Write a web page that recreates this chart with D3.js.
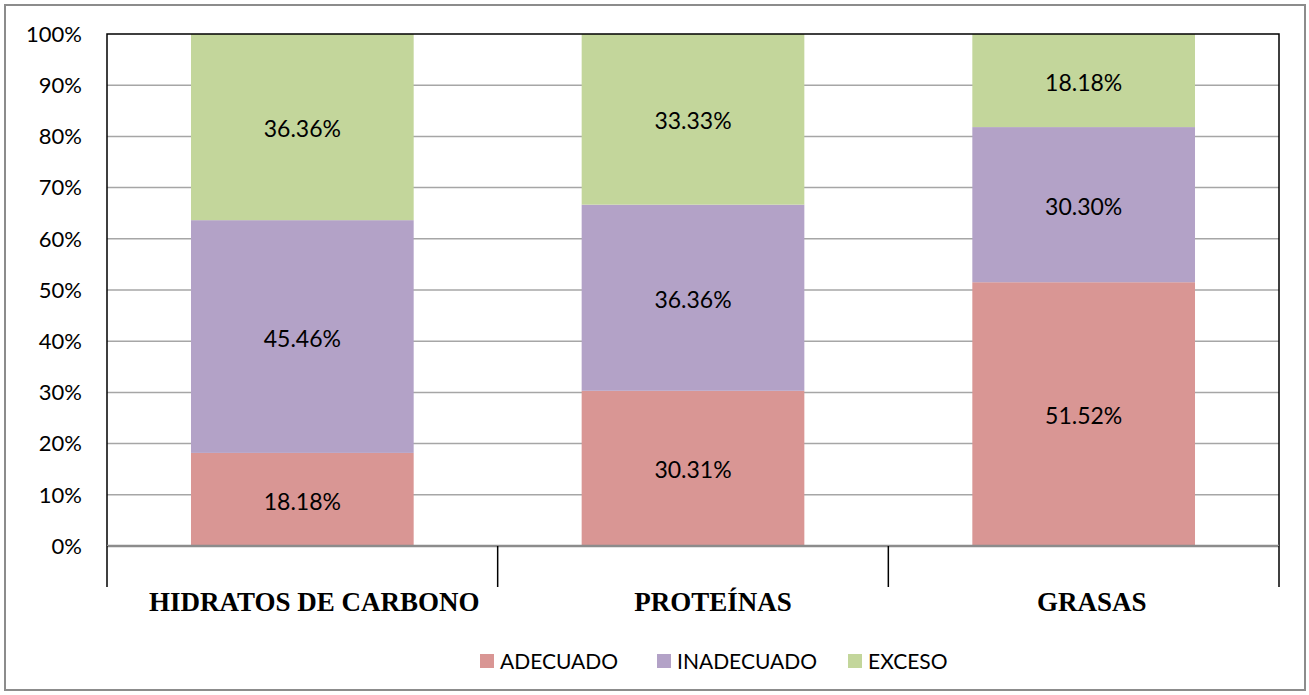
<!DOCTYPE html>
<html>
<head>
<meta charset="utf-8">
<script src="https://cdn.jsdelivr.net/npm/d3@7"></script>
<style>
  body { margin: 0; background: #fff; }
  svg { display: block; }
</style>
</head>
<body>
<div id="div_id_main"></div>
<script>

var vsCategories = ["HIDRATOS DE CARBONO", "PROTEÍNAS", "GRASAS"];
var vsSeries = ["ADECUADO", "INADECUADO", "EXCESO"];

var vAdecuado   = [18.18, 30.31, 51.52];
var vInadecuado = [45.46, 36.36, 30.30];
var vExceso     = [36.36, 33.33, 18.18];

var vTicks = [0, 10, 20, 30, 40, 50, 60, 70, 80, 90, 100];

var vColors = ["#D99694", "#B3A2C7", "#C3D69B"];

var WIDTH = 1309;
var HEIGHT = 695;

var PLOT_LEFT = 107;
var PLOT_RIGHT = 1279;
var PLOT_TOP = 34;
var PLOT_BOTTOM = 546;

var FONT_SANS = "Lato, 'Open Sans', sans-serif";

function funcDraw_Main() {

	let svgMain = d3.select("#div_id_main")
					.append("svg")
						.attr("width", WIDTH)
						.attr("height", HEIGHT);

	// ---------------------------------------------------------------

	svgMain.append("rect")
				.attr("x", 5)
				.attr("y", 5)
				.attr("width", 1300)
				.attr("height", 685)
				.attr("fill", "#fff")
				.attr("stroke", "#8c8c8c")
				.attr("stroke-width", 2);

	let fScale_X = d3.scaleBand()
						.domain(vsCategories)
						.range([PLOT_LEFT, PLOT_RIGHT])
						.paddingInner(0.43)
						.paddingOuter(0.215);

	let fScale_Band = d3.scaleBand()
						.domain(vsCategories)
						.range([PLOT_LEFT, PLOT_RIGHT]);

	let fScale_Y = d3.scaleLinear()
						.domain([0, 100])
						.range([PLOT_BOTTOM, PLOT_TOP]);

	// grid lines --------------------------------------------------

	svgMain.append("g")
				.selectAll("line")
				.data(vTicks.filter(function (d) { return d > 0 && d < 100; }))
				.enter()
				.append("line")
					.attr("x1", PLOT_LEFT)
					.attr("x2", PLOT_RIGHT)
					.attr("y1", function (d) { return fScale_Y(d); })
					.attr("y2", function (d) { return fScale_Y(d); })
					.attr("stroke", "#a6a6a6")
					.attr("stroke-width", 1.5);

	// stacked bars -------------------------------------------------

	let dsRows = vsCategories.map(function (c, i) {
		return { "cat": c, "ADECUADO": vAdecuado[i], "INADECUADO": vInadecuado[i], "EXCESO": vExceso[i] };
	});

	let stack = d3.stack().keys(vsSeries);
	let dsStack = stack(dsRows);

	let gSeries = svgMain.selectAll("g.g_class_series")
				.data(dsStack)
				.enter()
				.append("g")
					.attr("class", "g_class_series")
					.attr("fill", function (d, i) { return vColors[i]; });

	gSeries.selectAll("rect")
				.data(function (d) { return d; })
				.enter()
				.append("rect")
					.attr("x", function (d) { return fScale_X(d.data.cat); })
					.attr("width", fScale_X.bandwidth())
					.attr("y", function (d) { return fScale_Y(Math.min(d[1], 100)); })
					.attr("height", function (d) { return fScale_Y(d[0]) - fScale_Y(Math.min(d[1], 100)); });

	gSeries.selectAll("text")
				.data(function (d) { return d; })
				.enter()
				.append("text")
					.attr("x", function (d) { return fScale_X(d.data.cat) + fScale_X.bandwidth() / 2; })
					.attr("y", function (d) { return (fScale_Y(d[0]) + fScale_Y(Math.min(d[1], 100))) / 2 + 2; })
					.attr("dy", "0.35em")
					.attr("text-anchor", "middle")
					.attr("fill", "#000")
					.style("font-family", FONT_SANS)
					.style("font-size", "23px")
					.text(function (d) { return (d[1] - d[0]).toFixed(2) + "%"; });

	// plot border ---------------------------------------------------

	svgMain.append("path")
				.attr("d", "M" + PLOT_LEFT + "," + PLOT_BOTTOM + "V" + PLOT_TOP + "H" + PLOT_RIGHT + "V" + PLOT_BOTTOM)
				.attr("fill", "none")
				.attr("stroke", "#000")
				.attr("stroke-width", 1.5);

	svgMain.append("line")
				.attr("x1", PLOT_LEFT)
				.attr("x2", PLOT_RIGHT)
				.attr("y1", PLOT_BOTTOM)
				.attr("y2", PLOT_BOTTOM)
				.attr("stroke", "#8c8c8c")
				.attr("stroke-width", 2.5);

	// y axis labels -------------------------------------------------

	svgMain.append("g")
				.selectAll("text")
				.data(vTicks)
				.enter()
				.append("text")
					.attr("x", 82)
					.attr("y", function (d) { return fScale_Y(d); })
					.attr("dy", "0.35em")
					.attr("text-anchor", "end")
					.attr("fill", "#000")
					.style("font-family", FONT_SANS)
					.style("font-size", "22px")
					.text(function (d) { return d + "%"; });

	// category separators and labels ---------------------------------

	let vSeparators = vsCategories.map(function (c) { return fScale_Band(c); }).concat([PLOT_RIGHT]);

	svgMain.append("g")
				.selectAll("line")
				.data(vSeparators)
				.enter()
				.append("line")
					.attr("x1", function (d) { return d; })
					.attr("x2", function (d) { return d; })
					.attr("y1", PLOT_BOTTOM)
					.attr("y2", PLOT_BOTTOM + 41)
					.attr("stroke", "#000")
					.attr("stroke-width", 1.5);

	svgMain.append("g")
				.selectAll("text")
				.data(vsCategories)
				.enter()
				.append("text")
					.attr("x", function (d, i) { return fScale_Band(d) + fScale_Band.bandwidth() / 2 + [12, 20, 8][i]; })
					.attr("y", 611)
					.attr("text-anchor", "middle")
					.attr("fill", "#000")
					.style("font-family", "'Liberation Serif', 'Times New Roman', serif")
					.style("font-weight", "bold")
					.style("font-size", "27px")
					.text(function (d) { return d; });

	// legend --------------------------------------------------------

	let vLegendX = [480, 657, 848];

	let gLegend = svgMain.append("g")
				.selectAll("g")
				.data(vsSeries)
				.enter()
				.append("g")
					.attr("transform", function (d, i) { return "translate(" + vLegendX[i] + ",654)"; });

	gLegend.append("rect")
				.attr("width", 14)
				.attr("height", 14)
				.attr("fill", function (d, i) { return vColors[i]; });

	gLegend.append("text")
				.attr("x", 20)
				.attr("y", 8)
				.attr("dy", "0.35em")
				.attr("fill", "#000")
				.style("font-family", FONT_SANS)
				.style("font-size", "21px")
				.text(function (d) { return d; });
}

funcDraw_Main();

</script>
</body>
</html>
